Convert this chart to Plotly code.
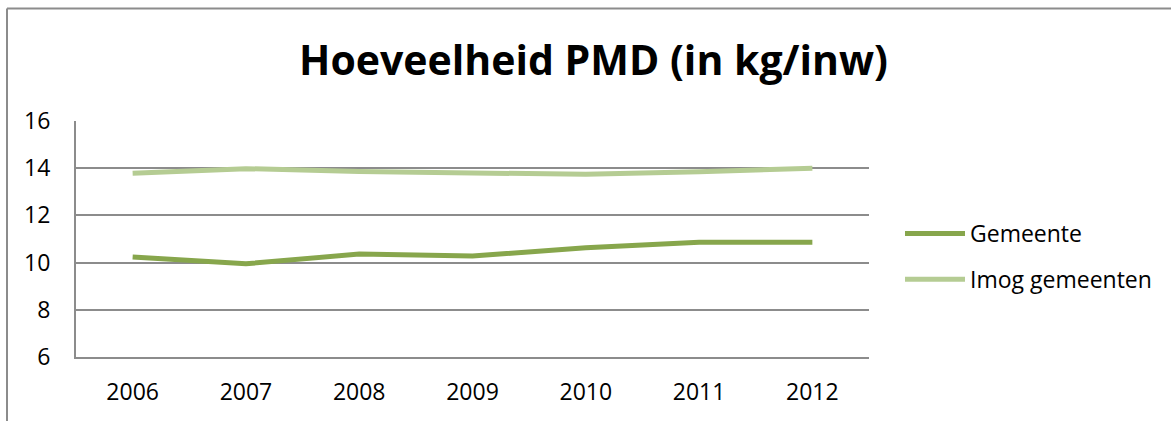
import plotly.graph_objects as go

years = ["2006", "2007", "2008", "2009", "2010", "2011", "2012"]
gemeente = [10.24, 9.95, 10.36, 10.28, 10.63, 10.86, 10.86]
imog = [13.79, 13.98, 13.86, 13.82, 13.74, 13.85, 14.0]
y_ticks = [6, 8, 10, 12, 14, 16]

W, H = 1171, 421
ML, MR, MT, MB = 76, W - 869, 121, H - 357
PW, PH = W - ML - MR, H - MT - MB

def px_x(x):
    return (x - ML) / PW

def px_y(y):
    return (H - MB - y) / PH

fig = go.Figure()
fig.add_trace(go.Scatter(x=years, y=gemeente, mode="lines", name="Gemeente",
                         line=dict(color="#87A64C", width=5), legendgroup="a"))
fig.add_trace(go.Scatter(x=years, y=imog, mode="lines", name="Imog gemeenten",
                         line=dict(color="#B5CC93", width=5), legendgroup="b"))

grey = "#8C8C8C"
# chart border (top and left)
fig.add_shape(type="line", xref="paper", yref="paper",
              x0=px_x(7), x1=px_x(W + 5), y0=px_y(8.5), y1=px_y(8.5),
              line=dict(color=grey, width=2))
fig.add_shape(type="line", xref="paper", yref="paper",
              x0=px_x(7), x1=px_x(7), y0=px_y(8.5), y1=px_y(H + 5),
              line=dict(color=grey, width=2))

fig.update_layout(
    width=W, height=H,
    margin=dict(l=ML, r=MR, t=MT, b=MB, autoexpand=False),
    paper_bgcolor="white", plot_bgcolor="white",
    font=dict(family="Open Sans", color="black", size=23),
    title=dict(text="<b>Hoeveelheid PMD (in kg/inw)</b>",
               font=dict(family="Open Sans", size=41, color="black"),
               x=px_x(593.5), xanchor="center", xref="paper",
               y=1 - 61 / H, yanchor="middle", yref="container"),
    showlegend=True,
    legend=dict(x=px_x(900), xanchor="left", y=px_y(212), yanchor="top",
                font=dict(family="Open Sans", size=23, color="black"),
                tracegroupgap=13, itemwidth=60, bgcolor="rgba(0,0,0,0)"),
    xaxis=dict(type="category", range=[-0.5, 6.5], showgrid=False,
               showline=True, linecolor=grey, linewidth=2, ticks="",
               automargin=False, ticklabelstandoff=13, tickfont=dict(size=23)),
    yaxis=dict(range=[6, 16], tickvals=y_ticks, showgrid=True, gridcolor=grey,
               gridwidth=2, showline=True, linecolor=grey, linewidth=2,
               ticks="", automargin=False, ticklabelstandoff=19,
               zeroline=False, tickfont=dict(size=23)),
)

fig.write_html("out.html", config={"displayModeBar": False},
               post_script="document.body.style.margin='0';")
